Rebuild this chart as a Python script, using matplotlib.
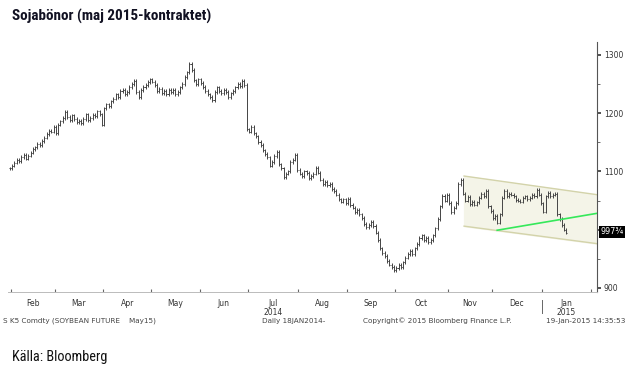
import matplotlib
matplotlib.use("Agg")
import matplotlib.pyplot as plt
import matplotlib.transforms as mtransforms

# daily closes (cents/bushel), S K5 Comdty, from end of Jan 2014 to 19 Jan 2015
closes = [
    1105, 1110, 1115, 1120, 1118, 1125, 1128, 1122, 1127, 1132,
    1138, 1141, 1147, 1145, 1152, 1158, 1164, 1170, 1168, 1176,
    1165, 1180, 1186, 1192, 1202, 1193, 1188, 1196, 1190, 1184,
    1187, 1183, 1190, 1198, 1188, 1192, 1197, 1195, 1203, 1198,
    1180, 1208, 1215, 1212, 1220, 1225, 1232, 1228, 1238, 1240,
    1232, 1236, 1245, 1250, 1255, 1236, 1228, 1240, 1245, 1248,
    1253, 1258, 1254, 1248, 1238, 1242, 1234, 1238, 1232, 1240,
    1236, 1240, 1233, 1236, 1244, 1250, 1262, 1270, 1285, 1274,
    1256, 1250, 1258, 1252, 1245, 1238, 1232, 1228, 1222, 1236,
    1244, 1238, 1234, 1240, 1236, 1228, 1234, 1238, 1244, 1250,
    1246, 1255, 1248, 1172, 1168, 1176, 1165, 1160, 1150, 1145,
    1136, 1130, 1124, 1110, 1116, 1126, 1134, 1112, 1105, 1090,
    1096, 1100, 1116, 1120, 1128, 1102, 1096, 1092, 1100, 1097,
    1088, 1092, 1096, 1106, 1098, 1086, 1078, 1082, 1076, 1079,
    1070, 1066, 1060, 1052, 1048, 1052, 1046, 1053, 1042, 1038,
    1030, 1034, 1026, 1020, 1010, 1004, 1008, 1013, 1006, 995,
    982, 968, 960, 955, 946, 940, 936, 930, 934, 940,
    936, 944, 952, 958, 963, 958, 968, 975, 986, 990,
    982, 986, 978, 982, 990, 1002, 1018, 1040, 1058, 1050,
    1060, 1046, 1030, 1038, 1046, 1078, 1085, 1062, 1050, 1056,
    1044, 1048, 1043, 1047, 1055, 1062, 1058, 1066, 1040, 1032,
    1020, 1024, 1012, 1026, 1055, 1066, 1058, 1062, 1060, 1057,
    1051, 1050, 1048, 1055, 1057, 1052, 1055, 1060, 1058, 1068,
    1060, 1045, 1031, 1057, 1063, 1058, 1060, 1062, 1026, 1018,
    1008, 1000, 995,
]

# trading days per month (Feb 2014 .. Jan 2015)
month_names = ["Feb", "Mar", "Apr", "May", "Jun", "Jul", "Aug", "Sep", "Oct", "Nov", "Dec", "Jan"]
month_days = [19, 21, 21, 21, 21, 22, 21, 21, 23, 19, 22, 21]
first_month_start = 1

# trend channel (index, price) and support line
chan_x = [197.5, 255.3]
chan_upper = [1092, 1060]
chan_lower = [1006, 976]
green_x = [211.9, 255.3]
green_y = [999, 1028]

last_label = "997\u00be"

fig = plt.figure(figsize=(6.33, 3.75), dpi=100)
ax = fig.add_axes([8 / 633, 1 - 292 / 375, 589 / 633, 250 / 375])

bar_col = "#444444"
for i, c in enumerate(closes):
    o = closes[i - 1] if i > 0 else c
    hi = max(o, c) + 3
    lo = min(o, c) - 3
    ax.vlines(i, lo, hi, color=bar_col, lw=0.7)
    ax.hlines(o, i - 0.45, i, color=bar_col, lw=0.7)
    ax.hlines(c, i, i + 0.45, color=bar_col, lw=0.7)

# channel
ax.fill_between(chan_x, chan_lower, chan_upper, color="#f4f4e8", zorder=0)
ax.plot(chan_x, chan_upper, color="#d3d3aa", lw=1.0, zorder=1)
ax.plot(chan_x, chan_lower, color="#d3d3aa", lw=1.0, zorder=1)
ax.plot(green_x, green_y, color="#35e85a", lw=1.2, zorder=3)

ax.set_xlim(-0.8, 255.3)
ax.set_ylim(893, 1322)

# axes look
for s in ["top", "left"]:
    ax.spines[s].set_visible(False)
ax.spines["right"].set_color("#555555")
ax.spines["right"].set_linewidth(0.8)
ax.spines["bottom"].set_color("#bbbbbb")
ax.spines["bottom"].set_linewidth(0.7)

ax.yaxis.tick_right()
ax.set_yticks([900, 1000, 1100, 1200, 1300])
ax.set_yticklabels(["900", "", "1100", "1200", "1300"])
ax.set_yticks([950, 1050, 1150, 1250], minor=True)
ax.tick_params(axis="y", which="major", direction="out", length=3, width=1.2,
               color="#333333", labelsize=5.5, labelcolor="#333333", pad=2)
ax.tick_params(axis="y", which="minor", direction="out", length=2, width=0.6, color="#555555")

starts = [first_month_start]
for d in month_days:
    starts.append(starts[-1] + d)
bounds = [s - 0.5 for s in starts]
ax.set_xticks(bounds)
ax.set_xticklabels([])
ax.tick_params(axis="x", which="major", direction="in", length=2, width=0.8, color="#666666")

tr = mtransforms.blended_transform_factory(ax.transData, ax.transAxes)
for k, name in enumerate(month_names):
    mid = (bounds[k] + bounds[k + 1]) / 2
    ax.text(mid, -0.028, name, transform=tr, ha="center", va="top", fontsize=5.5, color="#333333")
ax.text((bounds[5] + bounds[6]) / 2, -0.064, "2014", transform=tr, ha="center", va="top",
        fontsize=5.5, color="#333333")
ax.text((bounds[11] + bounds[12]) / 2, -0.064, "2015", transform=tr, ha="center", va="top",
        fontsize=5.5, color="#333333")
ax.plot([bounds[11], bounds[11]], [-0.03, -0.085], transform=tr, color="#666666", lw=0.7, clip_on=False)

# last price box
tr_y = mtransforms.blended_transform_factory(ax.transAxes, ax.transData)
ax.text(1.006, 996, last_label, transform=tr_y, ha="left", va="center", fontsize=5.8,
        color="white", bbox=dict(boxstyle="square,pad=0.2", fc="black", ec="none"), zorder=5)

# texts
narrow = ["Roboto Condensed", "Roboto", "DejaVu Sans"]
fig.text(12 / 633, 1 - 16 / 375, "Sojabönor (maj 2015-kontraktet)", family=narrow,
         fontweight="bold", fontsize=10.9, color="#111122", va="center", ha="left")
fig.text(12 / 633, 1 - 357 / 375, "Källa: Bloomberg", family=narrow,
         fontsize=10.3, color="#111111", va="center", ha="left")

foot_y = 1 - 321 / 375
fig.text(3 / 633, foot_y, "S K5 Comdty (SOYBEAN FUTURE    May15)", fontsize=5.2, color="#444444", va="center")
fig.text(262 / 633, foot_y, "Daily 18JAN2014-", fontsize=5.2, color="#444444", va="center")
fig.text(363 / 633, foot_y, "Copyright\u00a9 2015 Bloomberg Finance L.P.", fontsize=5.2, color="#444444", va="center")
fig.text(546 / 633, foot_y, "19-Jan-2015 14:35:53", fontsize=5.2, color="#444444", va="center")

plt.savefig("out.png", dpi=100)
